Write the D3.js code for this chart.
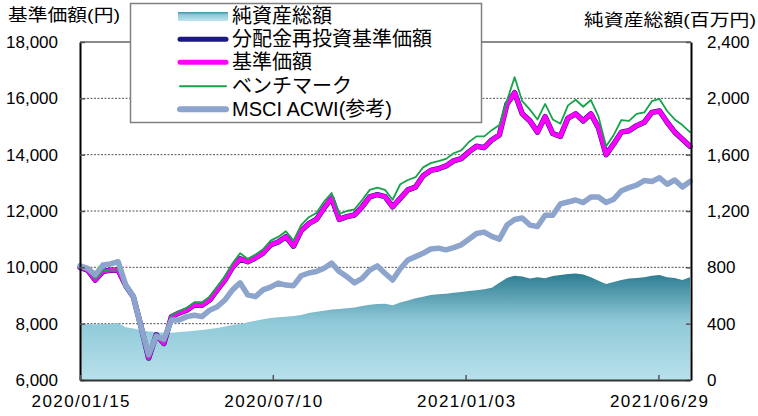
<!DOCTYPE html>
<html>
<head>
<meta charset="utf-8">
<title>基準価額・純資産総額の推移</title>
<script src="https://cdn.jsdelivr.net/npm/d3@7"></script>
<style>
body { margin: 0; background: #fff; }
svg { display: block; font-family: "Liberation Sans", Arial, "Noto Sans CJK JP", sans-serif; }
.grid line { stroke: #555; stroke-width: 1; stroke-dasharray: 2,1.5; }
.axis text { font-size: 17px; fill: #000; }
</style>
</head>
<body>
<svg id="chart" width="758" height="416"></svg>
<script>
// weekly readings, first one on 2020/01/15
var START = "2020/01/15";

// 基準価額 (円)
var nav = [10000, 9900, 9550, 9850, 9900, 9900, 9350, 8950, 7900, 6780,
  7600, 7300, 8250, 8380, 8480, 8660, 8650, 8840, 9200, 9550,
  10000, 10300, 10200, 10330, 10500, 10800, 10900, 11090, 10750, 11300,
  11550, 11700, 12100, 12460, 11700, 11800, 11860, 12150, 12500, 12580,
  12510, 12150, 12450, 12750, 12850, 13250, 13440, 13500, 13600, 13780,
  13860, 14100, 14300, 14250, 14520, 14700, 15800, 16200, 15450, 15200,
  14800, 15350, 14750, 14650, 15300, 15450, 15200, 15450, 14950, 14000,
  14380, 14800, 14850, 15030, 15150, 15500, 15550, 15150, 14800, 14550,
  14300];

// 分配金再投資基準価額 : no distribution paid, so same as nav
var reinvestNav = nav.slice();

// ベンチマーク
var benchmark = [10000, 9920, 9580, 9870, 9920, 9920, 9380, 8960, 7920, 6800,
  7640, 7350, 8300, 8450, 8560, 8760, 8760, 8960, 9320, 9680,
  10140, 10500, 10300, 10450, 10640, 10950, 11080, 11280, 10950, 11500,
  11780, 11930, 12330, 12640, 11900, 12000, 12060, 12390, 12750, 12830,
  12750, 12400, 12950, 13100, 13200, 13550, 13700, 13770, 13850, 14050,
  14150, 14450, 14650, 14650, 14870, 15050, 15920, 16750, 15900, 15600,
  15250, 15800, 15250, 15100, 15750, 15950, 15700, 15940, 15350, 14300,
  14700, 15230, 15200, 15450, 15500, 15900, 15980, 15550, 15250, 15050,
  14800];

// MSCI ACWI (参考)
var msci = [10050, 9960, 9730, 10080, 10120, 10200, 9370, 8960, 7890, 6900,
  7550, 7450, 8130, 8130, 8250, 8300, 8250, 8480, 8600, 8840,
  9200, 9450, 9020, 8960, 9200, 9300, 9440, 9370, 9350, 9700,
  9800, 9850, 9970, 10150, 9850, 9670, 9450, 9610, 9900, 10050,
  9790, 9550, 9950, 10260, 10380, 10500, 10650, 10680, 10620, 10700,
  10800, 11000, 11200, 11250, 11100, 11000, 11500, 11700, 11750, 11500,
  11450, 11850, 11850, 12250, 12320, 12390, 12300, 12500, 12500, 12300,
  12420, 12720, 12830, 12920, 13080, 13050, 13180, 12950, 13100, 12850,
  13050];

// 純資産総額 (百万円)
var netAssets = [400, 398, 395, 398, 400, 405, 375, 365, 355, 345,
  340, 335, 335, 340, 345, 350, 355, 362, 370, 380,
  390, 398, 410, 420, 432, 440, 445, 450, 455, 462,
  475, 485, 492, 500, 505, 510, 515, 525, 535, 540,
  542, 530, 550, 565, 580, 592, 604, 608, 612, 620,
  625, 632, 638, 645, 655, 690, 725, 740, 735, 720,
  730, 722, 738, 745, 753, 757, 750, 730, 705, 682,
  695, 710, 720, 725, 730, 740, 745, 730, 725, 710,
  730];

var xTicks = ["2020/01/15", "2020/07/10", "2021/01/03", "2021/06/29"];
var leftTicks = [6000, 8000, 10000, 12000, 14000, 16000, 18000];
var rightTicks = [0, 400, 800, 1200, 1600, 2000, 2400];

var legendNames = ["純資産総額", "分配金再投資基準価額", "基準価額", "ベンチマーク", "MSCI ACWI(参考)"];

var parse = d3.timeParse("%Y/%m/%d");
var start = parse(START);
var dates = nav.map(function(d, i) { return d3.timeDay.offset(start, 7 * i); });

var svg = d3.select("#chart");
var L = 80, R = 690, T = 42, B = 380;

var x = d3.scaleTime().domain([start, dates[dates.length - 1]]).range([L, R]);
var yL = d3.scaleLinear().domain([6000, 18000]).range([B, T]);
var yR = d3.scaleLinear().domain([0, 2400]).range([B, T]);

var defs = svg.append("defs");
var grad = defs.append("linearGradient").attr("id", "assetFill")
  .attr("gradientUnits", "userSpaceOnUse")
  .attr("x1", 0).attr("x2", 0).attr("y1", yR(760)).attr("y2", B);
grad.append("stop").attr("offset", 0).attr("stop-color", "#2b7b90");
grad.append("stop").attr("offset", 0.45).attr("stop-color", "#8fc9d8");
grad.append("stop").attr("offset", 1).attr("stop-color", "#b8e1eb");

var sw = defs.append("linearGradient").attr("id", "swatchFill")
  .attr("x1", 0).attr("x2", 0).attr("y1", 0).attr("y2", 1);
sw.append("stop").attr("offset", 0).attr("stop-color", "#3f8ea2");
sw.append("stop").attr("offset", 0.3).attr("stop-color", "#8cc8d7");
sw.append("stop").attr("offset", 1).attr("stop-color", "#bfe4ee");

// gridlines
svg.append("g").attr("class", "grid")
  .selectAll("line").data(leftTicks.slice(1, -1)).enter().append("line")
  .attr("x1", L).attr("x2", R)
  .attr("y1", function(d) { return yL(d); })
  .attr("y2", function(d) { return yL(d); });

// net assets area
svg.append("path")
  .datum(netAssets)
  .attr("fill", "url(#assetFill)")
  .attr("d", d3.area()
    .x(function(d, i) { return x(dates[i]); })
    .y0(B)
    .y1(function(d) { return yR(d); }));

function drawLine(values, color, width) {
  svg.append("path")
    .datum(values)
    .attr("fill", "none")
    .attr("stroke", color)
    .attr("stroke-width", width)
    .attr("stroke-linejoin", "round")
    .attr("stroke-linecap", "round")
    .attr("d", d3.line()
      .x(function(d, i) { return x(dates[i]); })
      .y(function(d) { return yL(d); }));
}
drawLine(reinvestNav, "#1a1a80", 5.5);
drawLine(nav, "#ff00ff", 4.5);
drawLine(benchmark, "#16a34a", 1.8);
drawLine(msci, "#8da4cc", 5.5);

// frame top
svg.append("line").attr("x1", L).attr("x2", R + 1).attr("y1", T).attr("y2", T)
  .attr("stroke", "#8a8a8a").attr("stroke-width", 2);

// axes
var gL = svg.append("g").attr("class", "axis").attr("transform", "translate(" + L + ",0)")
  .call(d3.axisLeft(yL).tickValues(leftTicks).tickFormat(d3.format(","))
    .tickSize(-5).tickSizeOuter(0).tickPadding(22));
var gR = svg.append("g").attr("class", "axis").attr("transform", "translate(" + (R + 1) + ",0)")
  .call(d3.axisRight(yR).tickValues(rightTicks).tickFormat(d3.format(","))
    .tickSize(-5).tickSizeOuter(0).tickPadding(16));
var gB = svg.append("g").attr("class", "axis").attr("transform", "translate(0," + B + ")")
  .call(d3.axisBottom(x).tickValues(xTicks.map(parse)).tickFormat(d3.timeFormat("%Y/%m/%d"))
    .tickSize(-5).tickSizeOuter(0).tickPadding(15));

gL.select(".domain").attr("stroke", "#000").attr("stroke-width", 2);
gR.select(".domain").attr("stroke", "#000").attr("stroke-width", 2);
gB.select(".domain").attr("stroke", "#333").attr("stroke-width", 2);
svg.selectAll(".axis .tick line").attr("stroke", "#555").attr("stroke-width", 1.5);
gB.selectAll("text").attr("textLength", 98).attr("lengthAdjust", "spacing");

// axis titles
svg.append("text").attr("x", 8).attr("y", 15).attr("dy", ".35em")
  .attr("font-size", 17).attr("textLength", 112).attr("lengthAdjust", "spacingAndGlyphs")
  .text("基準価額(円)");
svg.append("text").attr("x", 584).attr("y", 20).attr("dy", ".35em")
  .attr("font-size", 17).attr("textLength", 172).attr("lengthAdjust", "spacingAndGlyphs")
  .text("純資産総額(百万円)");

// legend
var lg = svg.append("g");
lg.append("rect").attr("x", 130.5).attr("y", 3.5).attr("width", 351).attr("height", 119)
  .attr("fill", "#fff").attr("stroke", "#808080").attr("stroke-width", 1.5);
var rowY = [16, 39.3, 62.3, 86.3, 109.3];
lg.append("rect").attr("x", 178).attr("y", 12).attr("width", 50).attr("height", 9)
  .attr("fill", "url(#swatchFill)");
var legendStyles = [null, ["#1a1a80", 5], ["#ff00ff", 5], ["#16a34a", 2], ["#8da4cc", 6]];
legendStyles.forEach(function(s, i) {
  if (!s) return;
  lg.append("line").attr("x1", 180).attr("x2", 226).attr("y1", rowY[i]).attr("y2", rowY[i])
    .attr("stroke", s[0]).attr("stroke-width", s[1]).attr("stroke-linecap", "round");
});
lg.selectAll("text.lab").data(legendNames).enter().append("text")
  .attr("class", "lab")
  .attr("x", 232).attr("y", function(d, i) { return rowY[i]; }).attr("dy", ".35em")
  .attr("font-size", 20)
  .text(function(d) { return d; });
</script>
</body>
</html>
